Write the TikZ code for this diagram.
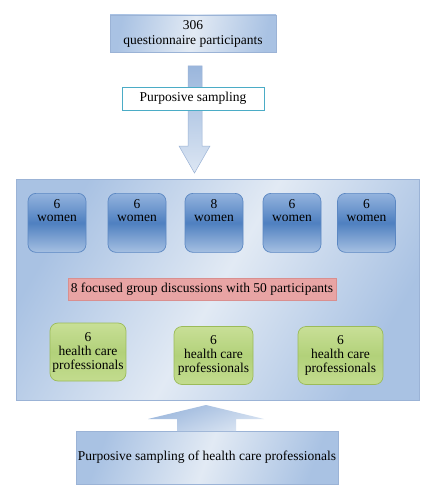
\documentclass[tikz,border=0pt]{standalone}
\usepackage{fontspec}
\setmainfont{Liberation Serif}
\begin{document}
\begin{tikzpicture}[x=1pt,y=-1pt,
  lightbox/.style={draw=boxborder, line width=0.8pt, top color=boxdark, bottom color=boxdark, middle color=boxlight, shading angle=60},
  womanbox/.style={draw=womenborder, line width=0.7pt, rounded corners=8pt, minimum width=58pt, minimum height=59pt, top color=womentop, bottom color=womenbot, middle color=womenmid, anchor=north, align=center, font=\fontsize{13.5}{13.5}\selectfont, text depth=25pt, inner sep=2pt},
  hcpbox/.style={draw=greenborder, line width=0.7pt, rounded corners=8pt, minimum height=58pt, top color=greentop, bottom color=greenbot, middle color=greenmid, align=center, font=\fontsize{13.5}{14}\selectfont, inner sep=1pt},
  txt/.style={font=\fontsize{13.5}{15}\selectfont, align=center}
]
\definecolor{boxborder}{HTML}{9BB3D6}
\definecolor{boxdark}{HTML}{A9C2E3}
\definecolor{boxlight}{HTML}{E2EAF4}
\definecolor{womenborder}{HTML}{5B87C2}
\definecolor{womentop}{HTML}{93B3DE}
\definecolor{womenmid}{HTML}{4F80C0}
\definecolor{womenbot}{HTML}{A6C0E2}
\definecolor{greenborder}{HTML}{9BBB59}
\definecolor{greentop}{HTML}{C8DF96}
\definecolor{greenmid}{HTML}{B2D17A}
\definecolor{greenbot}{HTML}{C3DC8E}
\definecolor{pinkfill}{HTML}{E8A4A4}
\definecolor{pinkborder}{HTML}{D98F8F}
\definecolor{tealborder}{HTML}{4BACC6}
\definecolor{arrowdark}{HTML}{9AB6DC}
\definecolor{arrowlight}{HTML}{DCE6F3}
\useasboundingbox (0,0) rectangle (435,500);
\fill[white] (0,0) rectangle (435,500);

% top box
\node[lightbox, minimum width=166pt, minimum height=37pt, txt, inner sep=0pt, shading angle=80] (top) at (193,33.5) {306\\questionnaire participants};

% down arrow
\coordinate (dtip) at (194.5,173);
\shade[top color=arrowdark, bottom color=arrowlight, draw=boxborder, line width=0.5pt]
  (188,66) -- (202,66) -- (202,146) -- (210,146) -- (dtip) -- (179,146) -- (188,146) -- cycle;

\node[draw=tealborder, fill=white, line width=0.8pt, minimum width=142pt, minimum height=23pt, txt, inner sep=0pt] (ps) at (193,98.5) {Purposive sampling};

% main box
\node[lightbox, minimum width=403pt, minimum height=221pt, inner sep=0pt] (main) at (217.5,289.5) {};

% women boxes
\node[womanbox] (w1) at (57,193) {6\\women};
\node[womanbox] (w2) at (137,193) {6\\women};
\node[womanbox] (w3) at (214,193) {8\\women};
\node[womanbox] (w4) at (292,193) {6\\women};
\node[womanbox] (w5) at (366.5,193) {6\\women};

% pink banner
\node[draw=pinkborder, fill=pinkfill, line width=0.6pt, minimum width=268pt, minimum height=22pt, txt, inner sep=0pt] (fgd) at (202,289) {8 focused group discussions with 50 participants};

% health care boxes
\node[hcpbox, minimum width=76pt] (h1) at (88,352) {6\\health care\\professionals};
\node[hcpbox, minimum width=79pt] (h2) at (213.5,355.5) {6\\health care\\professionals};
\node[hcpbox, minimum width=85pt] (h3) at (340.5,355.5) {6\\health care\\professionals};

% bottom box
\node[lightbox, minimum width=262pt, minimum height=53pt, txt, inner sep=0pt, shading angle=70] (bot) at (207,457.5) {Purposive sampling of health care professionals};

% up arrow
\coordinate (utip) at (206,405);
\shade[top color=arrowdark, bottom color=arrowlight, shading angle=20]
  (177,431) -- (177,419) -- (148,419) -- (utip) -- (264,419) -- (236,419) -- (236,431) -- cycle;
\end{tikzpicture}
\end{document}
